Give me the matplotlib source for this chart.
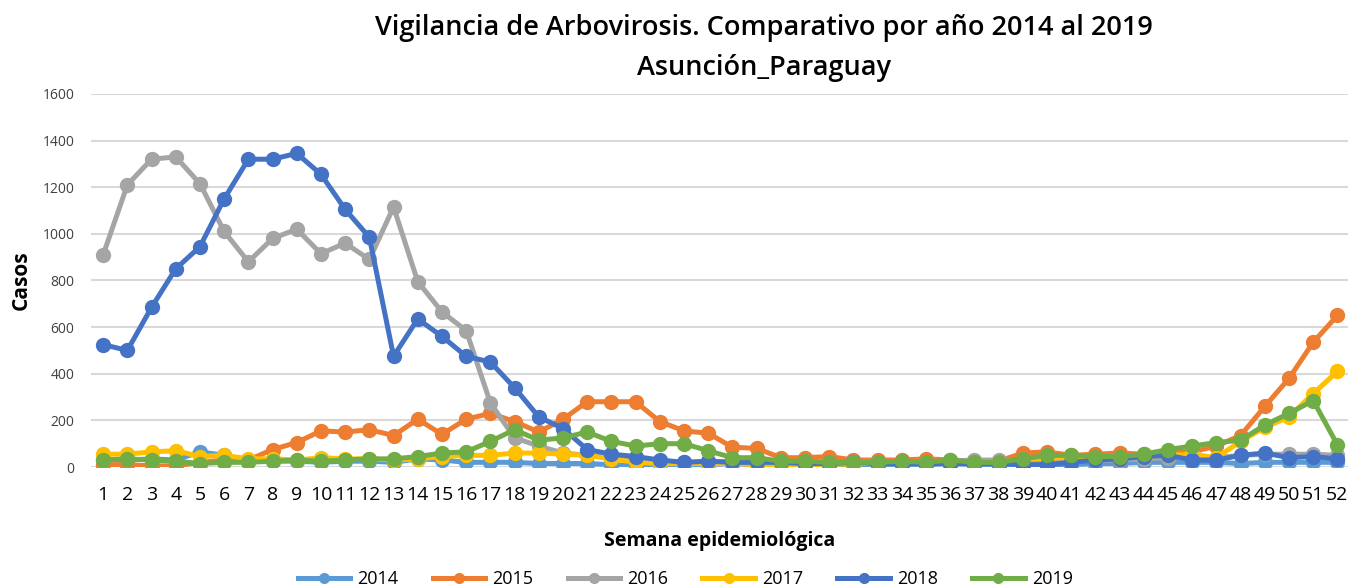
import matplotlib.pyplot as plt
import numpy as np

plt.rcParams['font.family'] = ['Open Sans', 'DejaVu Sans']

semanas = np.arange(1, 53)
years = ['2014', '2015', '2016', '2017', '2018', '2019']
colors = ['#5B9BD5', '#ED7D31', '#A5A5A5', '#FFC000', '#4472C4', '#70AD47']

c2014 = [30, 30, 35, 30, 65, 50, 25, 25, 25, 20, 25, 25, 20, 35, 30, 20, 20, 20, 15, 15,
         15, 10, 5, 10, 10, 10, 15, 10, 10, 10, 10, 10, 10, 10, 10, 15, 10, 10, 10, 10,
         10, 15, 15, 20, 20, 20, 20, 15, 20, 20, 20, 20]
c2015 = [10, 10, 5, 5, 20, 30, 30, 75, 105, 155, 150, 160, 135, 205, 140, 205, 230, 195, 150, 205,
         280, 280, 280, 195, 155, 145, 85, 80, 40, 40, 45, 30, 30, 30, 35, 30, 25, 25, 60, 65,
         50, 55, 60, 55, 65, 65, 90, 135, 260, 380, 535, 650]
c2016 = [910, 1210, 1320, 1330, 1215, 1010, 880, 980, 1020, 915, 960, 890, 1115, 795, 665, 585, 275, 125, 90, 60,
         50, 40, 30, 25, 20, 20, 25, 20, 20, 20, 20, 20, 20, 20, 20, 25, 30, 30, 25, 30,
         30, 30, 30, 35, 40, 40, 40, 50, 55, 55, 55, 50]
c2017 = [55, 55, 65, 70, 45, 50, 35, 35, 30, 40, 35, 35, 30, 35, 45, 50, 50, 60, 60, 55,
         50, 35, 20, 15, 15, 15, 15, 10, 10, 10, 10, 15, 15, 15, 15, 15, 15, 20, 30, 40,
         40, 40, 40, 45, 50, 55, 40, 110, 170, 215, 315, 410]
c2018 = [525, 500, 685, 850, 945, 1150, 1320, 1320, 1345, 1255, 1105, 985, 475, 635, 560, 475, 450, 340, 215, 165,
         75, 55, 45, 30, 20, 25, 20, 20, 20, 15, 15, 20, 15, 15, 15, 15, 15, 15, 10, 10,
         20, 30, 35, 45, 50, 30, 30, 50, 60, 40, 45, 35]
c2019 = [30, 35, 30, 25, 15, 20, 20, 25, 30, 25, 30, 35, 35, 45, 60, 65, 110, 160, 115, 125,
         150, 110, 90, 100, 100, 70, 40, 40, 25, 25, 20, 20, 20, 25, 20, 30, 20, 20, 35, 50,
         50, 45, 45, 55, 75, 90, 105, 115, 180, 230, 285, 95]
series = [c2014, c2015, c2016, c2017, c2018, c2019]

fig = plt.figure(figsize=(13.49, 5.87), dpi=100)
ax = fig.add_axes([0.0675, 0.2044, 0.932, 0.6356])

for name, col, vals in zip(years, colors, series):
    ax.plot(semanas, vals, color=col, lw=3.6, marker='o', ms=10, label=name)

ax.set_xlim(0.5, 52.45)
ax.set_ylim(0, 1600)
ax.set_yticks(np.arange(0, 1601, 200))
ax.set_xticks(semanas)
ax.grid(axis='y', color='#D9D9D9', lw=1.5)
ax.set_axisbelow(True)
for s in ax.spines.values():
    s.set_visible(False)
ax.tick_params(axis='both', length=0)
ax.tick_params(axis='y', labelsize=10, colors='#404040', pad=12)
ax.tick_params(axis='x', labelsize=14, colors='black', pad=14)

ax.set_ylabel('Casos', fontsize=15, fontweight='bold', labelpad=8)
ax.set_xlabel('Semana epidemiológica', fontsize=14, fontweight='bold', labelpad=19)
fig.text(0.566, 0.952, 'Vigilancia de Arbovirosis. Comparativo por año 2014 al 2019',
         ha='center', va='center', fontsize=19.5, fontweight='semibold')
fig.text(0.566, 0.885, 'Asunción_Paraguay',
         ha='center', va='center', fontsize=19.5, fontweight='semibold')

ax.legend(loc='center', bbox_to_anchor=(0.4726, -0.3), ncol=6, frameon=False,
          fontsize=13, handlelength=2.9, columnspacing=1.9, handletextpad=0.4, markerscale=0.7)

plt.savefig('out.png')
